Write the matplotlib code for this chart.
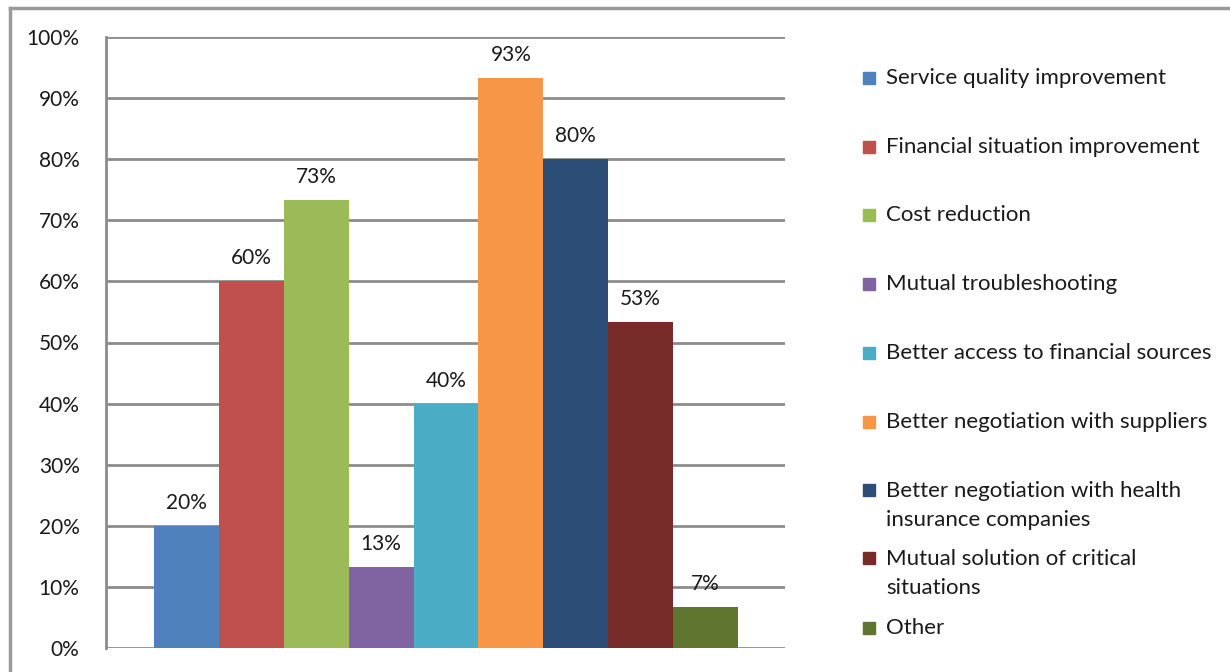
import matplotlib.pyplot as plt
from matplotlib.patches import Rectangle
from matplotlib.lines import Line2D

plt.rcParams['font.family'] = ['Lato', 'DejaVu Sans']

labels = ["Service quality improvement",
          "Financial situation improvement",
          "Cost reduction",
          "Mutual troubleshooting",
          "Better access to financial sources",
          "Better negotiation with suppliers",
          "Better negotiation with health\ninsurance companies",
          "Mutual solution of critical\nsituations",
          "Other"]
values = [20.0, 60.0, 73.3, 13.3, 40.0, 93.3, 80.0, 53.3, 6.7]
colors = ["#4F81BD", "#C0504D", "#9BBB59", "#8064A2", "#4BACC6",
          "#F79646", "#2C4D75", "#772C2A", "#5F7530"]
y_ticks = [0, 10, 20, 30, 40, 50, 60, 70, 80, 90, 100]

W, H = 1230, 672
fig = plt.figure(figsize=(W / 100, H / 100), dpi=100)
ax = fig.add_axes([106 / W, 1 - 648 / H, (785 - 106) / W, (648 - 37) / H])

txt_c = "#1a1a1a"
grid_c = "#8c8c8c"
for i, (v, c) in enumerate(zip(values, colors)):
    ax.bar(i, v, width=1.0, color=c, zorder=3)
    ax.annotate(f"{v:.0f}%", (i, v), xytext=(0, 16.5), textcoords="offset points",
                ha="center", va="center", fontsize=15, color=txt_c, zorder=4)

ax.set_xlim(-1.238, 9.223)
ax.set_ylim(0, 100)
ax.set_yticks(y_ticks)
ax.set_yticklabels([f"{t}%" for t in y_ticks])
ax.set_xticks([])
ax.tick_params(axis="y", length=0, pad=19, labelsize=15, labelcolor=txt_c)
ax.yaxis.grid(True, color=grid_c, linewidth=2, zorder=0)
for s in ["top", "right", "bottom"]:
    ax.spines[s].set_visible(False)
ax.spines["left"].set_color(grid_c)
ax.spines["left"].set_linewidth(2)
ax.spines["left"].set_zorder(5)

# legend, placed by hand like the Excel one (y of first text line, in px)
leg_y = [78, 147, 215, 284, 353, 422, 490, 558, 628]
for lab, c, y in zip(labels, colors, leg_y):
    fig.add_artist(Rectangle((863 / W, 1 - (y + 6) / H), 12 / W, 12 / H,
                             transform=fig.transFigure, color=c))
    n = lab.count("\n")
    fig.text(886 / W, 1 - (y + 15.5 * n) / H, lab, ha="left", va="center",
             fontsize=16, color=txt_c, linespacing=1.55)

# outer chart border (cropped on right and bottom)
fig.add_artist(Line2D([10 / W, 10 / W], [0, 1 - 8 / H], color="#9a9a9a", lw=2.5))
fig.add_artist(Line2D([10 / W, 1], [1 - 8 / H, 1 - 8 / H], color="#9a9a9a", lw=2.5))

fig.savefig("out.png", dpi=100)
